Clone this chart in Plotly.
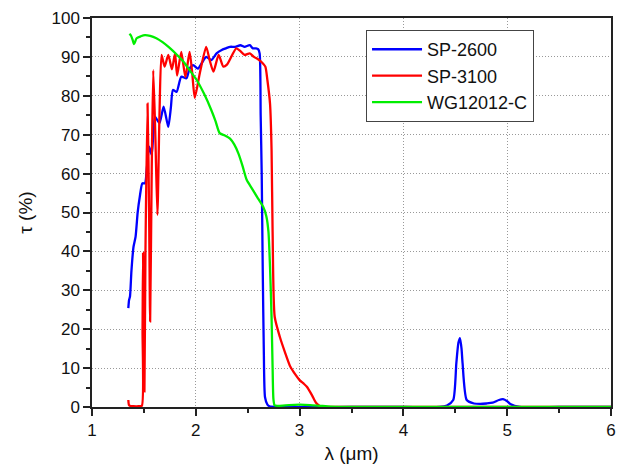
import plotly.graph_objects as go

# SP-2600 (blue)
sp2600_x = [1.35, 1.357, 1.366, 1.38, 1.40, 1.42, 1.44, 1.46, 1.485, 1.51, 1.53, 1.55, 1.575, 1.59, 1.607,
            1.65, 1.69, 1.735, 1.76, 1.78, 1.815, 1.86, 1.91, 1.94, 1.975, 2.02, 2.06, 2.10, 2.15, 2.20,
            2.25, 2.29, 2.33, 2.38, 2.43, 2.47, 2.52, 2.55, 2.58, 2.60, 2.615, 2.625, 2.635, 2.645, 2.655,
            2.667, 2.69, 2.71, 2.8, 3.5, 4.0, 4.35, 4.42, 4.48, 4.51, 4.53, 4.545, 4.56, 4.57, 4.61,
            4.68, 4.74, 4.80, 4.86, 4.92, 4.96, 5.00, 5.03, 5.12, 5.5, 6.0]
sp2600_y = [25.4, 27.5, 28.4, 35, 41.2, 43.8, 50, 54, 57.5, 57.5, 61.8, 66.9, 64.8, 70, 74.6,
            73, 77.2, 72, 77, 81.5, 81, 84.9, 84.5, 87, 87.9, 87, 88.5, 90, 89.2, 90.9,
            91.8, 92.2, 92.6, 92.6, 93, 92.6, 93, 92.2, 92.2, 92, 90.9, 75, 60, 35, 15,
            2.5, 0.6, 0.2, 0, 0, 0, 0, 0.4, 1.8, 11.3, 16.5, 17.7, 15, 11.3, 1.8,
            0.9, 0.8, 0.9, 1.1, 1.8, 2.0, 1.5, 0.8, 0.05, 0, 0]

# SP-3100 (red)
sp3100_x = [1.35, 1.355, 1.365, 1.40, 1.45, 1.48, 1.487, 1.492, 1.50, 1.505, 1.515, 1.535, 1.55, 1.56,
            1.575, 1.59, 1.61, 1.63, 1.65, 1.67, 1.70, 1.735, 1.77, 1.80, 1.82, 1.86, 1.90, 1.94,
            1.965, 1.99, 2.04, 2.10, 2.135, 2.17, 2.22, 2.265, 2.30, 2.39, 2.43, 2.47, 2.52, 2.56,
            2.60, 2.64, 2.67, 2.69, 2.715, 2.73, 2.74, 2.76, 2.81, 2.86, 2.91, 2.96, 3.0, 3.04,
            3.07, 3.12, 3.16, 3.2, 3.5, 6.0]
sp3100_y = [1.8, 0.6, 0.3, 0.2, 0.2, 0.3, 20, 39.6, 15, 4, 40, 78, 50, 22,
            60, 86.6, 70, 49.4, 75, 90.5, 87.5, 90.5, 86.8, 90.9, 85.2, 91.3, 84.8, 91.3,
            86, 79.5, 86, 92.6, 89, 86.2, 90.5, 87.5, 88, 92.2, 91.5, 90.5, 90.9, 90,
            89.4, 88.5, 87.5, 84, 78, 66, 45, 23.2, 18, 14, 10.4, 8.3, 6.9, 6.0,
            5.2, 3, 1, 0.2, 0, 0]

# WG12012-C (green)
wg_x = [1.36, 1.375, 1.39, 1.405, 1.43, 1.47, 1.51, 1.56, 1.62, 1.68, 1.74, 1.82, 1.88, 1.94, 2.01,
        2.08, 2.15, 2.19, 2.23, 2.28, 2.33, 2.37, 2.41, 2.45, 2.49, 2.54, 2.59, 2.65, 2.68, 2.70,
        2.715, 2.73, 2.74, 2.748, 2.76, 2.80, 2.9, 3.0, 3.1, 3.2, 3.3, 3.5, 6.0]
wg_y = [95.9, 95.5, 94.5, 93.3, 94.8, 95.3, 95.6, 95.4, 94.8, 93.8, 92.5, 90.5, 88.8, 86.6, 84,
        80.5, 76.3, 73.5, 70.4, 69.8, 69, 67.5, 65.2, 62, 58.4, 56.2, 54, 51.4, 49, 45,
        36, 23, 10, 2, 0.4, 0.3, 0.5, 0.6, 0.5, 0.3, 0.1, 0, 0]

series_names = ["SP-2600", "SP-3100", "WG12012-C"]

x_ticks = [1, 2, 3, 4, 5, 6]
y_ticks = [0, 10, 20, 30, 40, 50, 60, 70, 80, 90, 100]

font_family = "Liberation Sans, Arial, sans-serif"

fig = go.Figure()
fig.add_trace(go.Scatter(x=sp2600_x, y=sp2600_y, mode="lines", name=series_names[0],
                         line=dict(color="#0000ff", width=2.3, shape="spline", smoothing=0.6)))
fig.add_trace(go.Scatter(x=sp3100_x, y=sp3100_y, mode="lines", name=series_names[1],
                         line=dict(color="#ff0000", width=2.3, shape="spline", smoothing=0.6)))
fig.add_trace(go.Scatter(x=wg_x, y=wg_y, mode="lines", name=series_names[2],
                         line=dict(color="#00ee00", width=2.3, shape="spline", smoothing=0.6)))

axis_common = dict(
    showline=True, linecolor="#222", linewidth=1.5, mirror=True,
    ticks="outside", tickcolor="#222", tickwidth=1.5, ticklen=7,
    showgrid=True, gridcolor="#999999", griddash="1px,2px", gridwidth=1,
    zeroline=False, automargin=False,
    tickfont=dict(family=font_family, size=17, color="#111"),
)

fig.update_layout(
    width=630, height=470,
    margin=dict(l=92, r=19, t=18, b=63),
    paper_bgcolor="white", plot_bgcolor="white",
    font=dict(family=font_family, color="#111"),
    xaxis=dict(range=[1, 6], tickvals=x_ticks, ticktext=[str(v) for v in x_ticks],
               minor=dict(ticks="outside", dtick=0.5, ticklen=4, tickcolor="#222", tickwidth=1.5, showgrid=False),
               title=dict(text="λ (μm)", font=dict(family=font_family, size=19), standoff=8),
               **axis_common),
    yaxis=dict(range=[0, 100], tickvals=y_ticks, ticktext=[str(v) for v in y_ticks],
               minor=dict(ticks="outside", dtick=5, ticklen=4, tickcolor="#222", tickwidth=1.5, showgrid=False),
               title=dict(text="τ (%)", font=dict(family=font_family, size=19), standoff=14),
               **axis_common),
    legend=dict(x=0.528, y=0.969, xanchor="left", yanchor="top",
                bgcolor="white", bordercolor="#444", borderwidth=1,
                font=dict(family=font_family, size=18, color="#111"),
                tracegroupgap=0, itemwidth=50),
    showlegend=True,
)

fig.write_html("out.html")
